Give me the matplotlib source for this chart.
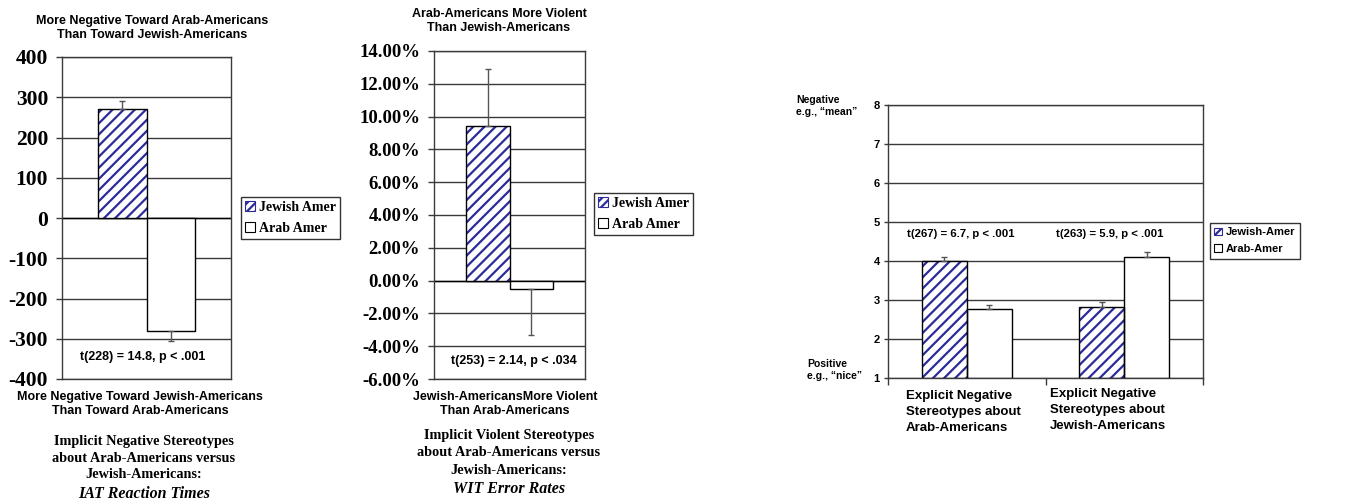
import matplotlib
matplotlib.use("Agg")
import matplotlib.pyplot as plt
from matplotlib.patches import Patch
from matplotlib.ticker import FuncFormatter

# data
series = ["Jewish Amer", "Arab Amer"]

iat_means = [270, -280]          # IAT reaction time difference
iat_err = [20, 25]

wit_means = [9.4, -0.5]          # WIT error rate difference (%)
wit_err = [3.5, 2.8]

explicit_groups = ["Explicit Negative\nStereotypes about\nArab-Americans",
                   "Explicit Negative\nStereotypes about\nJewish-Americans"]
explicit_jewish = [4.0, 2.82]
explicit_arab = [2.77, 4.1]
explicit_jewish_err = [0.1, 0.13]
explicit_arab_err = [0.1, 0.14]
explicit_series = ["Jewish-Amer", "Arab-Amer"]

W, H = 1360, 504
BLUE = "#2b2b9b"
GRID = "#3a3a3a"
SERIF = "Liberation Serif"
SANS = "Liberation Sans"
BW = 0.287

plt.rcParams["hatch.linewidth"] = 1.6
plt.rcParams["axes.unicode_minus"] = False


def px(x, y):
    # pixel position -> figure fraction
    return x / W, 1 - y / H


def box(x0, y0, x1, y1):
    return [x0 / W, 1 - y1 / H, (x1 - x0) / W, (y1 - y0) / H]


def hatched_bar(ax, x, v, w):
    ax.bar(x, v, w, color="white", edgecolor=BLUE, hatch="///", linewidth=0, zorder=2)
    ax.bar(x, v, w, fill=False, edgecolor="black", linewidth=1, zorder=3)


def plain_bar(ax, x, v, w):
    ax.bar(x, v, w, color="white", edgecolor="black", linewidth=1, zorder=2)


def err(ax, x, v, e):
    # one-sided error bar away from zero
    lo, hi = (0, e) if v >= 0 else (e, 0)
    ax.errorbar([x], [v], yerr=[[lo], [hi]], fmt="none", ecolor="#555555",
                elinewidth=1, capsize=2.5, capthick=1, zorder=4)


def legend_handles():
    return [Patch(facecolor="white", edgecolor=BLUE, hatch="////", linewidth=0.8),
            Patch(facecolor="white", edgecolor="black", linewidth=0.8)]


def style_box(ax):
    for s in ax.spines.values():
        s.set_color(GRID)
        s.set_linewidth(1)
    ax.set_axisbelow(True)
    ax.yaxis.grid(True, color=GRID, linewidth=1)


fig = plt.figure(figsize=(W / 100, H / 100), dpi=100)

# ---------- panel 1: IAT ----------
ax1 = fig.add_axes(box(62, 57, 231, 379))
style_box(ax1)
hatched_bar(ax1, -BW / 2, iat_means[0], BW)
plain_bar(ax1, BW / 2, iat_means[1], BW)
err(ax1, -BW / 2, iat_means[0], iat_err[0])
err(ax1, BW / 2, iat_means[1], iat_err[1])
ax1.axhline(0, color="black", linewidth=1, zorder=1)
ax1.set_xlim(-0.5, 0.5)
ax1.set_ylim(-400, 400)
ax1.set_yticks(range(-400, 401, 100))
ax1.set_xticks([])
ax1.tick_params(axis="y", length=4, width=1, pad=6, color=GRID)
for t in ax1.get_yticklabels():
    t.set_fontfamily(SERIF)
    t.set_fontweight("bold")
    t.set_fontsize(15.5)
ax1.text(-0.02, -345, "t(228) = 14.8, p < .001", ha="center", va="center",
         family=SANS, weight="bold", fontsize=9)
leg1 = fig.legend(legend_handles(), series, loc="upper left", bbox_to_anchor=px(241, 197),
                  frameon=True, fancybox=False, edgecolor="black", borderaxespad=0,
                  prop={"family": SERIF, "weight": "bold", "size": 10},
                  handlelength=0.7, handleheight=0.7, handletextpad=0.3,
                  borderpad=0.3, labelspacing=0.55)
leg1.get_frame().set_linewidth(1)
fig.text(*px(152, 28), "More Negative Toward Arab-Americans\nThan Toward Jewish-Americans",
         ha="center", va="center", family=SANS, weight="bold", fontsize=9)
fig.text(*px(140, 404), "More Negative Toward Jewish-Americans\nThan Toward Arab-Americans",
         ha="center", va="center", family=SANS, weight="bold", fontsize=9)
fig.text(*px(144, 458), "Implicit Negative Stereotypes\nabout Arab-Americans versus\nJewish-Americans:",
         ha="center", va="center", family=SERIF, weight="bold", fontsize=10.3, linespacing=1.4)
fig.text(*px(144, 494), "IAT Reaction Times", ha="center", va="center",
         family=SERIF, weight="bold", style="italic", fontsize=11.5)

# ---------- panel 2: WIT ----------
ax2 = fig.add_axes(box(434, 51, 585, 379))
style_box(ax2)
hatched_bar(ax2, -BW / 2, wit_means[0], BW)
plain_bar(ax2, BW / 2, wit_means[1], BW)
err(ax2, -BW / 2, wit_means[0], wit_err[0])
err(ax2, BW / 2, wit_means[1], wit_err[1])
ax2.axhline(0, color="black", linewidth=1, zorder=1)
ax2.set_xlim(-0.5, 0.5)
ax2.set_ylim(-6, 14)
ax2.set_yticks(range(-6, 15, 2))
ax2.yaxis.set_major_formatter(FuncFormatter(lambda v, p: f"{v:.2f}%"))
ax2.set_xticks([])
ax2.tick_params(axis="y", length=4, width=1, pad=6, color=GRID)
for t in ax2.get_yticklabels():
    t.set_fontfamily(SERIF)
    t.set_fontweight("bold")
    t.set_fontsize(13.5)
ax2.text(0.03, -4.9, "t(253) = 2.14, p < .034", ha="center", va="center",
         family=SANS, weight="bold", fontsize=9)
leg2 = fig.legend(legend_handles(), series, loc="upper left", bbox_to_anchor=px(594, 193),
                  frameon=True, fancybox=False, edgecolor="black", borderaxespad=0,
                  prop={"family": SERIF, "weight": "bold", "size": 10},
                  handlelength=0.7, handleheight=0.7, handletextpad=0.3,
                  borderpad=0.3, labelspacing=0.55)
leg2.get_frame().set_linewidth(1)
fig.text(*px(499, 21), "Arab-Americans More Violent\nThan Jewish-Americans",
         ha="center", va="center", family=SANS, weight="bold", fontsize=9)
fig.text(*px(505, 404), "Jewish-AmericansMore Violent\nThan Arab-Americans",
         ha="center", va="center", family=SANS, weight="bold", fontsize=9)
fig.text(*px(509, 453), "Implicit Violent Stereotypes\nabout Arab-Americans versus\nJewish-Americans:",
         ha="center", va="center", family=SERIF, weight="bold", fontsize=10.3, linespacing=1.4)
fig.text(*px(509, 489), "WIT Error Rates", ha="center", va="center",
         family=SERIF, weight="bold", style="italic", fontsize=11.5)

# ---------- panel 3: explicit ratings ----------
ax3 = fig.add_axes(box(888, 105, 1203, 378))
style_box(ax3)
xs = list(range(len(explicit_groups)))
for i in xs:
    hatched_bar(ax3, i - BW / 2, explicit_jewish[i] - 1, BW)
    plain_bar(ax3, i + BW / 2, explicit_arab[i] - 1, BW)
    err(ax3, i - BW / 2, explicit_jewish[i] - 1, explicit_jewish_err[i])
    err(ax3, i + BW / 2, explicit_arab[i] - 1, explicit_arab_err[i])
ax3.set_xlim(-0.5, 1.5)
ax3.set_ylim(0, 7)
ax3.set_yticks(range(0, 8))
ax3.set_yticklabels([str(v + 1) for v in range(0, 8)])
ax3.set_xticks([-0.5, 0.5, 1.5])
ax3.set_xticklabels([])
ax3.tick_params(axis="y", length=3, width=1, pad=3, color=GRID, labelsize=8)
ax3.tick_params(axis="x", length=5, width=1, color=GRID)
for t in ax3.get_yticklabels():
    t.set_fontfamily(SANS)
    t.set_fontweight("bold")
ax3.text(-0.04, 3.69, "t(267) = 6.7, p < .001", ha="center", va="center",
         family=SANS, weight="bold", fontsize=8.2)
ax3.text(0.91, 3.69, "t(263) = 5.9, p < .001", ha="center", va="center",
         family=SANS, weight="bold", fontsize=8.2)
for lbl, xl, yt in zip(explicit_groups, [906, 1050], [390, 388]):
    fig.text(*px(xl, yt), lbl, ha="left", va="top", family=SANS,
             weight="bold", fontsize=9.5, linespacing=1.45)
fig.text(*px(796, 106), "Negative\ne.g., \u201cmean\u201d", ha="left", va="center",
         family=SANS, weight="bold", fontsize=7.5)
fig.text(*px(807, 370), "Positive\ne.g., \u201cnice\u201d", ha="left", va="center",
         family=SANS, weight="bold", fontsize=7.5)
leg3 = fig.legend(legend_handles(), explicit_series, loc="upper left", bbox_to_anchor=px(1210, 223),
                  frameon=True, fancybox=False, edgecolor="black", borderaxespad=0,
                  prop={"family": SANS, "weight": "bold", "size": 8},
                  handlelength=0.7, handleheight=0.7, handletextpad=0.3,
                  borderpad=0.4, labelspacing=0.6)
leg3.get_frame().set_linewidth(1)

fig.savefig("out.png", dpi=100)
